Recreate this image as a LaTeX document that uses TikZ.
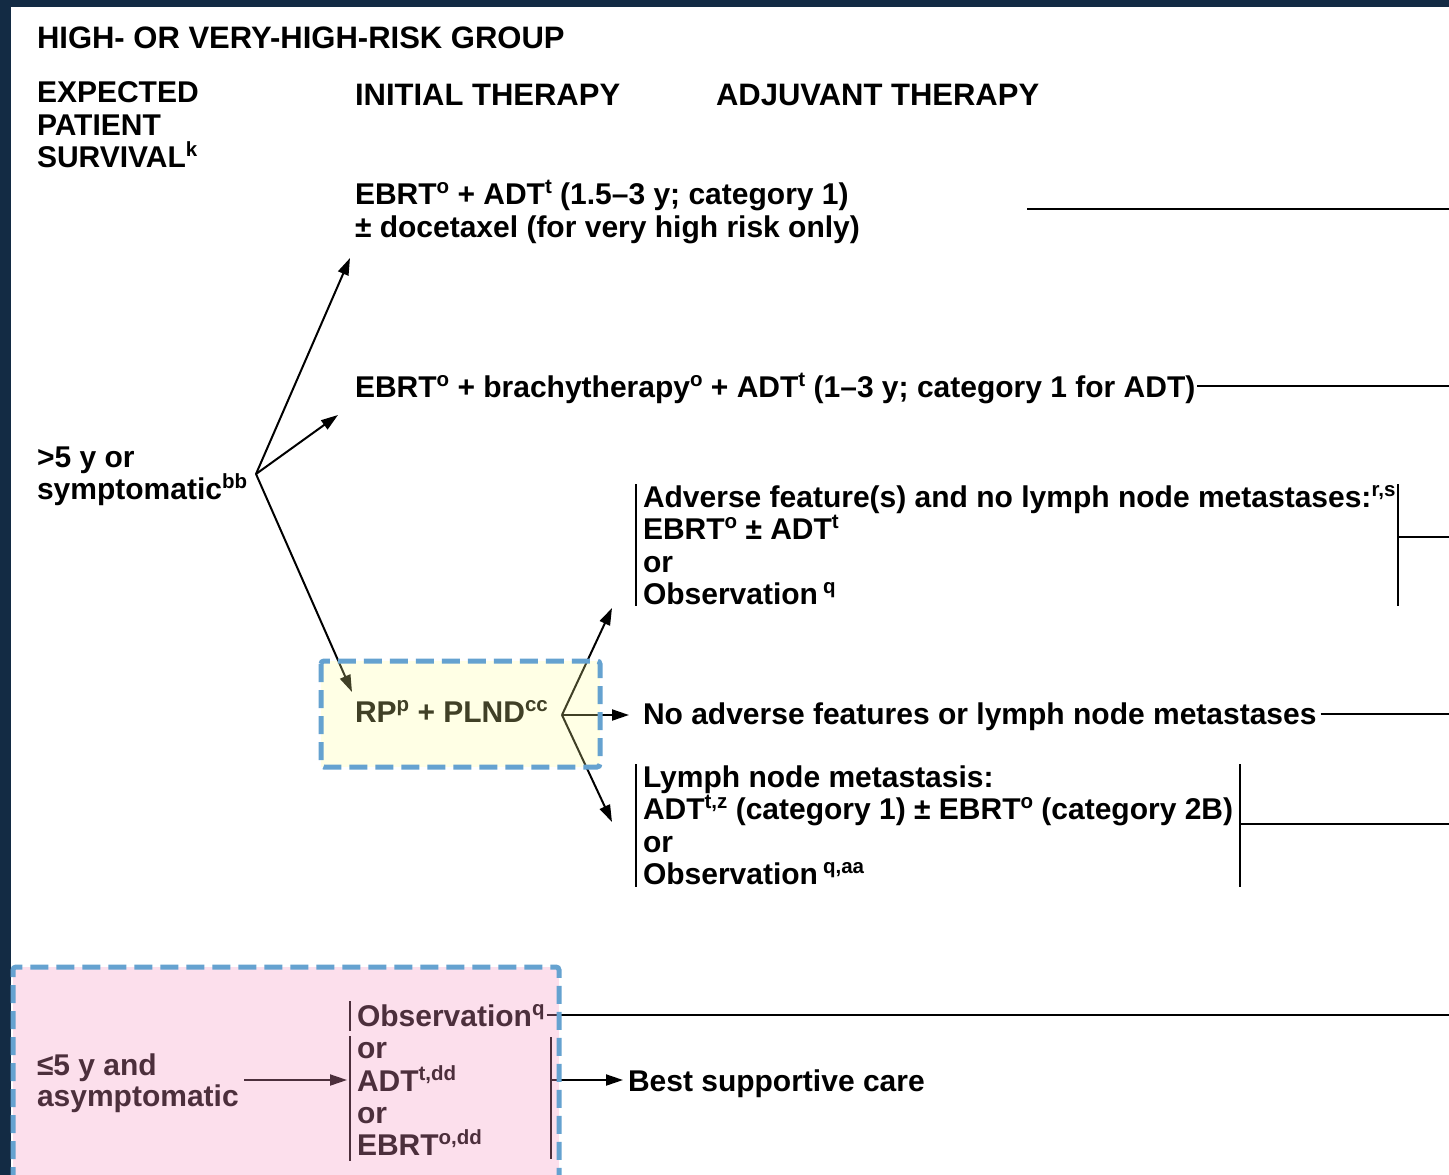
\documentclass[tikz,border=0pt]{standalone}
\usepackage{fontspec}
\setmainfont{Liberation Sans}
\usetikzlibrary{arrows.meta}

\definecolor{navy}{HTML}{132B44}
\definecolor{dashblue}{HTML}{65A2D0}
\definecolor{tintyellow}{HTML}{FFFF99}
\definecolor{tintpink}{HTML}{F898C2}

% small raised footnote letters
\newcommand\sx[1]{\raisebox{10.5pt}{\fontsize{20.5}{20}\selectfont #1}}

\tikzset{
  txt/.style={anchor=base west, inner sep=0pt, outer sep=0pt,
              font=\fontsize{30}{33}\selectfont\bfseries, text=black},
  head/.style={txt, font=\fontsize{31}{33}\selectfont\bfseries},
  arr/.style={line width=2pt, -{Triangle[length=17pt,width=11pt]}},
  rule/.style={line width=2.4pt},
  bar/.style={line width=2pt},
  dashbox/.style={draw=dashblue, line width=5pt, dash pattern=on 18pt off 8pt,
                  rounded corners=3pt}
}

\begin{document}
\begin{tikzpicture}[x=1pt,y=-1pt]
\useasboundingbox (0,0) rectangle (1449,1175);
\fill[navy] (0,0) rectangle (1449,1175);
\fill[white] (11,7) rectangle (1449,1175);

% column headings
\node[head] (title) at (37,48) {HIGH- OR VERY-HIGH-RISK GROUP};
\node[txt] (eps1) at (37,102) {EXPECTED};
\node[txt] (eps2) at (37,135) {PATIENT};
\node[txt] (eps3) at (37,167) {SURVIVAL\sx{k}};
\node[head] (hinit) at (355,105) {INITIAL THERAPY};
\node[head] (hadj) at (716,105) {ADJUVANT THERAPY};

% initial therapy options
\node[txt] (ebrta) at (355,204) {EBRT\sx{o} + ADT\sx{t} (1.5--3 y; category 1)};
\node[txt] (ebrtb) at (355,237) {± docetaxel (for very high risk only)};
\node[txt] (brachy) at (355,397) {EBRT\sx{o} + brachytherapy\sx{o} + ADT\sx{t} (1--3 y; category 1 for ADT)};
\node[txt] (rp) at (355,722) {RP\sx{p} + PLND\sx{cc}};

% survival > 5 y
\node[txt] (gta) at (37,467) {>5 y or};
\node[txt] (gtb) at (37,499) {symptomatic\sx{bb}};

% adjuvant options after RP
\node[txt] (adva) at (643,507) {Adverse feature(s) and no lymph node metastases:\sx{r,s}};
\node[txt] (advb) at (643,539) {EBRT\sx{o} ± ADT\sx{t}};
\node[txt] (advc) at (643,572) {or};
\node[txt] (advd) at (643,604) {Observation\,\sx{q}};
\node[txt] (noadv) at (643,724) {No adverse features or lymph node metastases};
\node[txt] (lna) at (643,787) {Lymph node metastasis:};
\node[txt] (lnb) at (643,819) {ADT\sx{t,z} (category 1) ± EBRT\sx{o} (category 2B)};
\node[txt] (lnc) at (643,852) {or};
\node[txt] (lnd) at (643,884) {Observation\,\sx{q,aa}};

% survival <= 5 y
\node[txt] (lea) at (37,1075) {≤5 y and};
\node[txt] (leb) at (37,1106) {asymptomatic};
\node[txt] (pobs) at (357,1026) {Observation\sx{q}};
\node[txt] (por1) at (357,1058) {or};
\node[txt] (padt) at (357,1091) {ADT\sx{t,dd}};
\node[txt] (por2) at (357,1123) {or};
\node[txt] (pebrt) at (357,1155) {EBRT\sx{o,dd}};
\node[txt] (best) at (628,1091) {Best supportive care};

% branch points and arrow tips
\coordinate (fork1) at (256,474);
\coordinate (t1) at (350,258);
\coordinate (t2) at (338,415);
\coordinate (t3) at (352,692);
\coordinate (fork2) at (562,715);
\coordinate (u1) at (612,608);
\coordinate (u2) at (629,715);
\coordinate (u3) at (612,822);

\draw[arr] (fork1) -- (t1);
\draw[arr] (fork1) -- (t2);
\draw[arr] (fork1) -- (t3);
\draw[arr] (fork2) -- (u1);
\draw[arr] (fork2) -- (u2);
\draw[arr] (fork2) -- (u3);

% brackets round the adjuvant blocks
\coordinate (advtl) at (636,484);
\coordinate (advbl) at (636,606);
\coordinate (advtr) at (1398,484);
\coordinate (advbr) at (1398,606);
\coordinate (advmid) at (1398,537);
\draw[bar] (advtl) -- (advbl);
\draw[bar] (advtr) -- (advbr);
\coordinate (lntl) at (636,764);
\coordinate (lnbl) at (636,887);
\coordinate (lntr) at (1240,764);
\coordinate (lnbr) at (1240,887);
\coordinate (lnmid) at (1240,824);
\draw[bar] (lntl) -- (lnbl);
\draw[bar] (lntr) -- (lnbr);

% lines running on to the right edge
\coordinate (r1a) at (1027,209);
\coordinate (r1b) at (1449,209);
\coordinate (r2b) at (1449,386);
\coordinate (r3b) at (1449,537);
\coordinate (r4b) at (1449,714);
\coordinate (r5b) at (1449,824);
\coordinate (r6b) at (1449,1015);
\draw[rule] (r1a) -- (r1b);
\draw[rule] ([xshift=2pt,yshift=11pt]brachy.base east) -- (r2b);
\draw[rule] (advmid) -- (r3b);
\draw[rule] ([xshift=4pt,yshift=10pt]noadv.base east) -- (r4b);
\draw[rule] (lnmid) -- (r5b);
\draw[rule] ([xshift=2pt,yshift=11pt]pobs.base east) -- (r6b);

% palliative branch
\coordinate (pa) at (244,1080);
\coordinate (pb) at (347,1080);
\draw[arr] (pa) -- (pb);
\coordinate (pobsT) at (350,1001);
\coordinate (pobsB) at (350,1031);
\coordinate (plT) at (350,1036);
\coordinate (plB) at (350,1161);
\coordinate (prT) at (551,1037);
\coordinate (prB) at (551,1159);
\coordinate (prmid) at (551,1080);
\coordinate (bsc) at (623,1080);
\draw[bar] (pobsT) -- (pobsB);
\draw[bar] (plT) -- (plB);
\draw[bar] (prT) -- (prB);
\draw[arr] (prmid) -- (bsc);

% tinted highlight boxes
\fill[tintyellow, fill opacity=0.25] (321,661) rectangle (600,767);
\fill[tintpink, fill opacity=0.31] (13,967) rectangle (559,1185);
\draw[dashbox] (321,661) rectangle (600,767);
\draw[dashbox] (13,1185) -- (13,967) -- (559,967) -- (559,1185);
\end{tikzpicture}
\end{document}
